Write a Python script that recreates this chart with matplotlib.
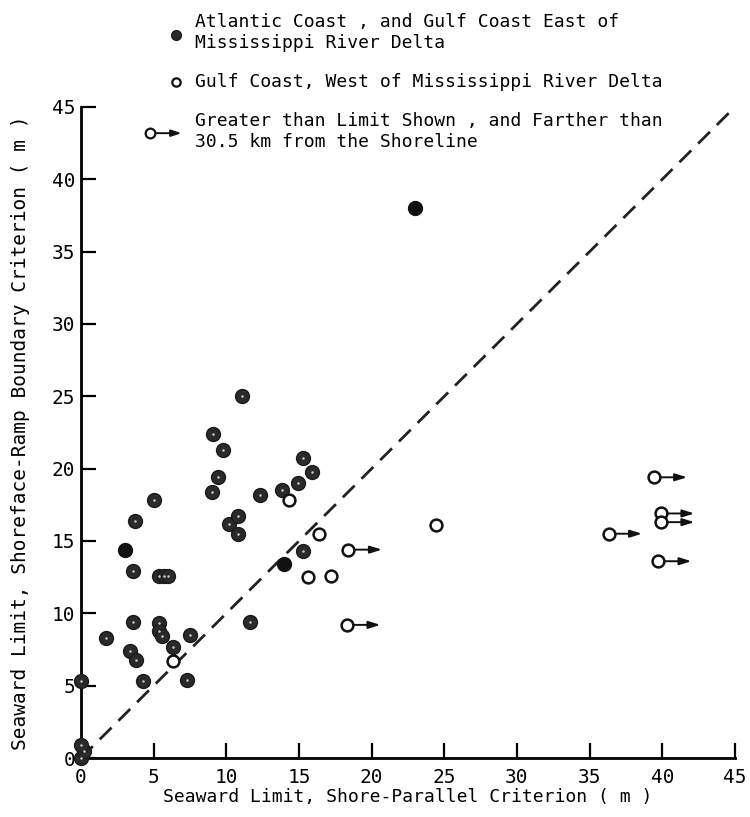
import matplotlib
matplotlib.use("Agg")
import matplotlib.pyplot as plt
from matplotlib.lines import Line2D

# Atlantic coast and Gulf coast east of the delta (filled, speckled)
east_x = [0.0, 0.2, 0.0, 0.0, 1.7, 3.4, 3.8, 4.3, 3.6, 5.4, 5.4, 5.6, 6.3, 7.5, 7.3,
          3.6, 5.4, 5.7, 6.0, 3.7, 5.0, 9.0, 9.4, 9.1, 9.8, 11.1, 10.2, 10.8, 10.8,
          11.6, 12.3, 13.8, 14.9, 15.3, 15.9, 15.3]
east_y = [0.0, 0.5, 0.9, 5.3, 8.3, 7.4, 6.8, 5.3, 9.4, 9.3, 8.8, 8.4, 7.7, 8.5, 5.4,
          12.9, 12.6, 12.6, 12.6, 16.4, 17.8, 18.4, 19.4, 22.4, 21.3, 25.0, 16.2, 16.7, 15.5,
          9.4, 18.2, 18.5, 19.0, 20.7, 19.8, 14.3]
# same group, solid black dots
east_solid_x = [3.0, 14.0, 23.0]
east_solid_y = [14.4, 13.4, 38.0]

# Gulf coast west of the delta (open)
west_x = [6.3, 14.3, 16.4, 15.6, 17.2, 24.4]
west_y = [6.7, 17.8, 15.5, 12.5, 12.6, 16.1]

# greater than limit shown (open + arrow)
far_x = [18.4, 18.3, 36.3, 39.4, 39.9, 39.9, 39.7]
far_y = [14.4, 9.2, 15.5, 19.4, 16.9, 16.3, 13.6]

ticks = [0, 5, 10, 15, 20, 25, 30, 35, 40, 45]

plt.rcParams['font.family'] = ['DejaVu Sans Mono']
fig = plt.figure(figsize=(7.5, 8.17), dpi=100)
ax = fig.add_axes([0.108, 0.0722, 0.872, 0.797])

ax.plot([0, 45], [0, 45], color='#222222', lw=2, dashes=(6, 3.5), zorder=1)

ax.plot(east_x, east_y, 'o', ms=10, mfc='#2a2a2a', mec='#1a1a1a', clip_on=False, zorder=3)
ax.plot(east_x, east_y, 'o', ms=1.8, mfc='#cccccc', mec='none', clip_on=False, zorder=4)
ax.plot(east_solid_x, east_solid_y, 'o', ms=10, mfc='#111111', mec='#111111', clip_on=False, zorder=3)
ax.plot(west_x, west_y, 'o', ms=8.5, mfc='white', mec='#111111', mew=1.8, clip_on=False, zorder=3)
ax.plot(far_x, far_y, 'o', ms=8.5, mfc='white', mec='#111111', mew=1.8, clip_on=False, zorder=3)
for x, y in zip(far_x, far_y):
    ax.annotate('', xy=(x + 2.3, y), xytext=(x, y),
                arrowprops=dict(arrowstyle='-|>,head_length=0.7,head_width=0.22',
                                color='#111111', lw=1.4, shrinkA=4.5, shrinkB=0))

ax.set_xlim(0, 45)
ax.set_ylim(0, 45)
ax.set_xticks(ticks)
ax.set_yticks(ticks)
for s in ['top', 'right']:
    ax.spines[s].set_visible(False)
for s in ['left', 'bottom']:
    ax.spines[s].set_linewidth(2)
ax.tick_params(direction='in', length=11, width=1.6, labelsize=14, pad=4)
ax.tick_params(axis='x', pad=7)
ax.set_xlabel('Seaward Limit, Shore-Parallel Criterion ( m )', fontsize=13, labelpad=1)
ax.set_ylabel('Seaward Limit, Shoreface-Ramp Boundary Criterion ( m )', fontsize=14, labelpad=16)

# legend drawn by hand above the axes
tf = fig.transFigure
fig.add_artist(Line2D([0.2347], [0.957], marker='o', ms=7, mfc='#2a2a2a', mec='#1a1a1a', transform=tf))
fig.add_artist(Line2D([0.2347], [0.9], marker='o', ms=6, mfc='white', mec='#111111', mew=1.6, transform=tf))
fig.add_artist(Line2D([0.2], [0.837], marker='o', ms=7, mfc='white', mec='#111111', mew=1.6, transform=tf))
ax.annotate('', xy=(0.242, 0.837), xytext=(0.2, 0.837), xycoords=tf, textcoords=tf,
            arrowprops=dict(arrowstyle='-|>,head_length=0.6,head_width=0.2',
                            color='#111111', lw=1.4, shrinkA=4, shrinkB=0), annotation_clip=False)
fig.text(0.26, 0.96, 'Atlantic Coast , and Gulf Coast East of\nMississippi River Delta',
         fontsize=13, va='center', ha='left', linespacing=1.25)
fig.text(0.26, 0.9, 'Gulf Coast, West of Mississippi River Delta',
         fontsize=13, va='center', ha='left')
fig.text(0.26, 0.839, 'Greater than Limit Shown , and Farther than\n30.5 km from the Shoreline',
         fontsize=13, va='center', ha='left', linespacing=1.25)

fig.savefig('out.png', dpi=100)
